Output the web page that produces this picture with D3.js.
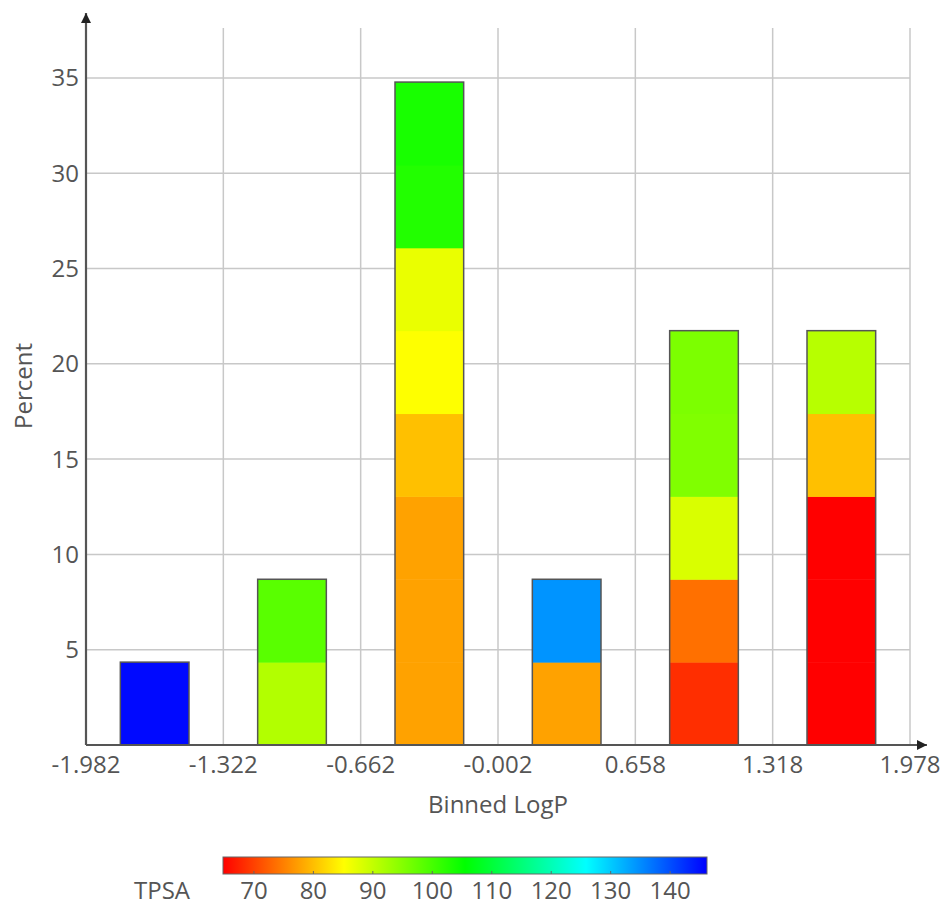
<!DOCTYPE html>
<html>
<head>
<meta charset="utf-8">
<script src="https://cdn.jsdelivr.net/npm/d3@7"></script>
<style>
  html, body { margin: 0; padding: 0; background: #fff; }
  svg { display: block; }
  text { font-family: "Open Sans", "Noto Sans", sans-serif; fill: #555; }
</style>
</head>
<body>
<svg id="chart" width="946" height="908"></svg>
<script>
// ---- Data ----
const binEdges = [-1.982, -1.322, -0.662, -0.002, 0.658, 1.318, 1.978];
const xTickLabels = ["-1.982", "-1.322", "-0.662", "-0.002", "0.658", "1.318", "1.978"];
const yTicks = [5, 10, 15, 20, 25, 30, 35];
const totalCount = 23;
// TPSA of each molecule in each LogP bin (stacked bottom to top)
const bin1Tpsa = [145.5];
const bin2Tpsa = [91.3, 98.4];
const bin3Tpsa = [77.7, 77.7, 77.7, 80.1, 85.2, 86.8, 102.8, 103.6];
const bin4Tpsa = [77.7, 134.4];
const bin5Tpsa = [68.5, 73.7, 88.2, 95.3, 95.6];
const bin6Tpsa = [64.8, 64.8, 64.8, 80.1, 90.9];
const binTpsa = [bin1Tpsa, bin2Tpsa, bin3Tpsa, bin4Tpsa, bin5Tpsa, bin6Tpsa];
const tpsaRange = [64.8, 146.2];
const tpsaTicks = [70, 80, 90, 100, 110, 120, 130, 140];

// ---- Setup ----
const svg = d3.select("#chart");
const x = d3.scaleLinear().domain([binEdges[0], binEdges[binEdges.length - 1]]).range([86, 910]);
const y = d3.scaleLinear().domain([0, 37.62]).range([745, 28]);
const hue = d3.scaleLinear().domain(tpsaRange).range([0, 240]).clamp(true);
const color = v => d3.hsl(hue(v), 1, 0.5).toString();

const grid = "#c8c8c8";
const axisCol = "#555";
const fs = 24;

// gridlines
svg.append("g").selectAll("line").data(yTicks).join("line")
  .attr("x1", x.range()[0]).attr("x2", x.range()[1])
  .attr("y1", d => y(d)).attr("y2", d => y(d))
  .attr("stroke", grid).attr("stroke-width", 1.5);
svg.append("g").selectAll("line").data(binEdges.slice(1)).join("line")
  .attr("x1", d => x(d)).attr("x2", d => x(d))
  .attr("y1", y(0)).attr("y2", y.range()[1])
  .attr("stroke", grid).attr("stroke-width", 1.5);

// bars
const pct = 100 / totalCount;
const barsG = svg.append("g");
binTpsa.forEach((vals, i) => {
  const c = (binEdges[i] + binEdges[i + 1]) / 2;
  const hw = (binEdges[i + 1] - binEdges[i]) / 4;
  const x0 = x(c - hw), x1 = x(c + hw);
  vals.forEach((v, j) => {
    barsG.append("rect")
      .attr("x", x0).attr("width", x1 - x0)
      .attr("y", y((j + 1) * pct)).attr("height", y(j * pct) - y((j + 1) * pct) + 0.5)
      .attr("fill", color(v));
  });
  barsG.append("rect")
    .attr("x", x0).attr("width", x1 - x0)
    .attr("y", y(vals.length * pct)).attr("height", y(0) - y(vals.length * pct))
    .attr("fill", "none").attr("stroke", axisCol).attr("stroke-width", 1.5);
});

// axes lines with arrows
const defs = svg.append("defs");
defs.append("marker").attr("id", "arrow").attr("viewBox", "0 0 10 10")
  .attr("refX", 10).attr("refY", 5).attr("markerWidth", 12).attr("markerHeight", 10)
  .attr("markerUnits", "userSpaceOnUse").attr("orient", "auto")
  .append("path").attr("d", "M0,0 L10,5 L0,10 Z").attr("fill", "#222");
svg.append("line").attr("x1", 86).attr("x2", 86).attr("y1", y(0)).attr("y2", 13)
  .attr("stroke", axisCol).attr("stroke-width", 2.2).attr("marker-end", "url(#arrow)");
svg.append("line").attr("x1", 86).attr("x2", 927).attr("y1", y(0)).attr("y2", y(0))
  .attr("stroke", axisCol).attr("stroke-width", 2.2).attr("marker-end", "url(#arrow)");

// tick labels
svg.append("g").selectAll("text").data(yTicks).join("text")
  .attr("x", 79).attr("y", d => y(d)).attr("dy", "0.35em")
  .attr("text-anchor", "end").attr("font-size", fs).text(d => d);
svg.append("g").selectAll("text").data(binEdges).join("text")
  .attr("x", d => x(d)).attr("y", 773)
  .attr("text-anchor", "middle").attr("font-size", fs).text((d, i) => xTickLabels[i]);

// axis titles
svg.append("text").attr("x", 498).attr("y", 813).attr("text-anchor", "middle")
  .attr("font-size", fs).text("Binned LogP");
svg.append("text").attr("transform", "translate(32,386) rotate(-90)")
  .attr("text-anchor", "middle").attr("font-size", fs).text("Percent");

// color bar legend
const cx = d3.scaleLinear().domain(tpsaRange).range([223, 707]);
const grad = defs.append("linearGradient").attr("id", "tpsaGrad")
  .attr("x1", "0%").attr("x2", "100%").attr("y1", "0%").attr("y2", "0%");
d3.range(0, 1.0001, 0.05).forEach(t => {
  grad.append("stop").attr("offset", (t * 100) + "%")
    .attr("stop-color", color(tpsaRange[0] + t * (tpsaRange[1] - tpsaRange[0])));
});
svg.append("rect").attr("x", cx.range()[0]).attr("y", 857)
  .attr("width", cx.range()[1] - cx.range()[0]).attr("height", 17)
  .attr("fill", "url(#tpsaGrad)").attr("stroke", "#666").attr("stroke-width", 1);
svg.append("g").selectAll("line").data(tpsaTicks).join("line")
  .attr("x1", d => cx(d)).attr("x2", d => cx(d)).attr("y1", 871).attr("y2", 874)
  .attr("stroke", "#666").attr("stroke-width", 1);
svg.append("g").selectAll("text").data(tpsaTicks).join("text")
  .attr("x", d => cx(d)).attr("y", 899).attr("text-anchor", "middle")
  .attr("font-size", fs).text(d => d);
svg.append("text").attr("x", 162).attr("y", 899).attr("text-anchor", "middle")
  .attr("font-size", fs).text("TPSA");
</script>
</body>
</html>
